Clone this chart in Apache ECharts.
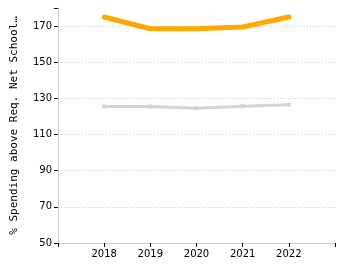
<!DOCTYPE html>
<html>
<head>
<meta charset="utf-8">
<script src="https://cdn.jsdelivr.net/npm/echarts@6/dist/echarts.min.js"></script>
<style>
html, body { margin: 0; padding: 0; background: #fff; }
#main { width: 350px; height: 275px; }
</style>
</head>
<body>
<div id="main"></div>
<script>
// years and values
var years = [2018, 2019, 2020, 2021, 2022];
var orange_vals = [175, 168.5, 168.5, 169.5, 175];
var gray_vals = [125.5, 125.5, 124.5, 125.7, 126.5];
var yTicks = [50, 70, 90, 110, 130, 150, 170];

function pairs(vals) {
    var out = [];
    for (var i = 0; i < years.length; i++) {
        out.push([years[i], vals[i]]);
    }
    return out;
}

// dotted grid on the labelled ticks only, none at the top edge (180)
var gridColors = [];
for (var i = 0; i < yTicks.length; i++) gridColors.push('#c8c8c8');
gridColors.push('rgba(0,0,0,0)');

var myChart = echarts.init(document.getElementById('main'));
var option = {
    animation: false,
    grid: { left: 58, right: 15, top: 8, bottom: 32 },
    xAxis: {
        type: 'value',
        min: 2017,
        max: 2023,
        interval: 1,
        axisLine: { lineStyle: { color: '#cccccc', width: 1 } },
        axisTick: { show: true, length: 4, lineStyle: { color: '#000' } },
        splitLine: { show: false },
        axisLabel: {
            color: '#000',
            fontFamily: 'DejaVu Sans',
            fontSize: 10,
            margin: 6,
            formatter: function (v) {
                return years.indexOf(v) >= 0 ? String(v) : '';
            }
        }
    },
    yAxis: {
        type: 'value',
        min: 50,
        max: 180,
        interval: 20,
        name: '% Spending above Req. Net School Spending',
        nameLocation: 'middle',
        nameGap: 38,
        nameTruncate: { maxWidth: 226, ellipsis: '…' },
        nameTextStyle: { color: '#000', fontFamily: 'DejaVu Sans Mono', fontSize: 11 },
        axisLine: { show: true, lineStyle: { color: '#cccccc', width: 1 } },
        axisTick: { show: true, length: 4, lineStyle: { color: '#000' } },
        splitLine: {
            show: true,
            lineStyle: { color: gridColors, type: [1, 2], width: 1 }
        },
        axisLabel: {
            color: '#000',
            fontFamily: 'DejaVu Sans',
            fontSize: 10,
            margin: 6,
            formatter: function (v) {
                return yTicks.indexOf(v) >= 0 ? String(v) : '';
            }
        }
    },
    series: [
        {
            type: 'line',
            data: pairs(gray_vals),
            symbol: 'rect',
            symbolSize: 4,
            itemStyle: { color: '#d4d4d4' },
            lineStyle: { color: '#d4d4d4', width: 3 }
        },
        {
            type: 'line',
            data: pairs(orange_vals),
            showSymbol: false,
            lineStyle: { color: '#ffa800', width: 5, cap: 'round' }
        }
    ]
};
myChart.setOption(option);
</script>
</body>
</html>
